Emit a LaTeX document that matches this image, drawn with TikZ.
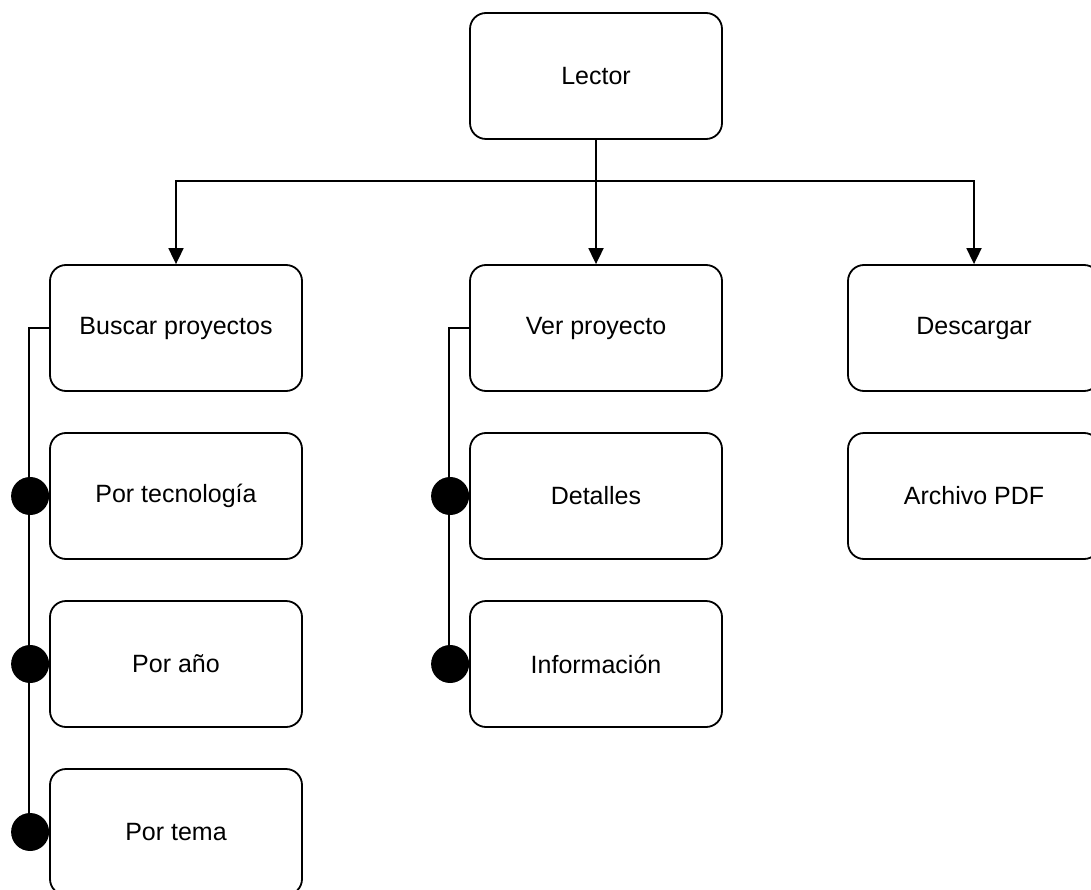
\documentclass[tikz,border=0pt]{standalone}
\usepackage{fontspec}
\setmainfont{Liberation Sans}
\usetikzlibrary{arrows.meta}
\begin{document}
\begin{tikzpicture}[x=1pt,y=-1pt,
  box/.style={draw=black, line width=1.8pt, rounded corners=16pt, fill=white,
    minimum width=252pt, minimum height=126pt, inner sep=0pt,
    font=\fontsize{25}{30}\selectfont},
  link/.style={draw=black, line width=1.8pt},
  arrowlink/.style={link, -{Triangle[length=16pt,width=15pt]}},
  dotmark/.style={fill=black, draw=none}]
\useasboundingbox (0,0) rectangle (1091,890);
\clip (0,0) rectangle (1091,890);
\fill[white] (0,0) rectangle (1091,890);

% nodes
\node[box] (lector)   at (596,76)  {Lector};
\node[box] (buscar)   at (176,328) {Buscar proyectos};
\node[box] (ver)      at (596,328) {Ver proyecto};
\node[box] (desc)     at (974,328) {Descargar};
\node[box] (tec)      at (176,496) {Por tecnología};
\node[box] (anio)     at (176,664) {Por año};
\node[box] (tema)     at (176,832) {Por tema};
\node[box] (det)      at (596,496) {Detalles};
\node[box] (info)     at (596,664) {Información};
\node[box] (pdf)      at (974,496) {Archivo PDF};

% tree from Lector
\coordinate (bus) at (596,181);
\draw[arrowlink] (lector.south) -- (bus) -| (buscar.north);
\draw[arrowlink] (lector.south) -- (ver.north);
\draw[arrowlink] (lector.south) -- (bus) -| (desc.north);

% sub-items with round end markers
\foreach \parent/\child in {buscar/tec, buscar/anio, buscar/tema, ver/det, ver/info}{
  \draw[link] (\parent.west) -- ++(-20,0) |- (\child.west);
  \fill[dotmark] ([xshift=-19pt]\child.west) circle (19pt);
}
\end{tikzpicture}
\end{document}
